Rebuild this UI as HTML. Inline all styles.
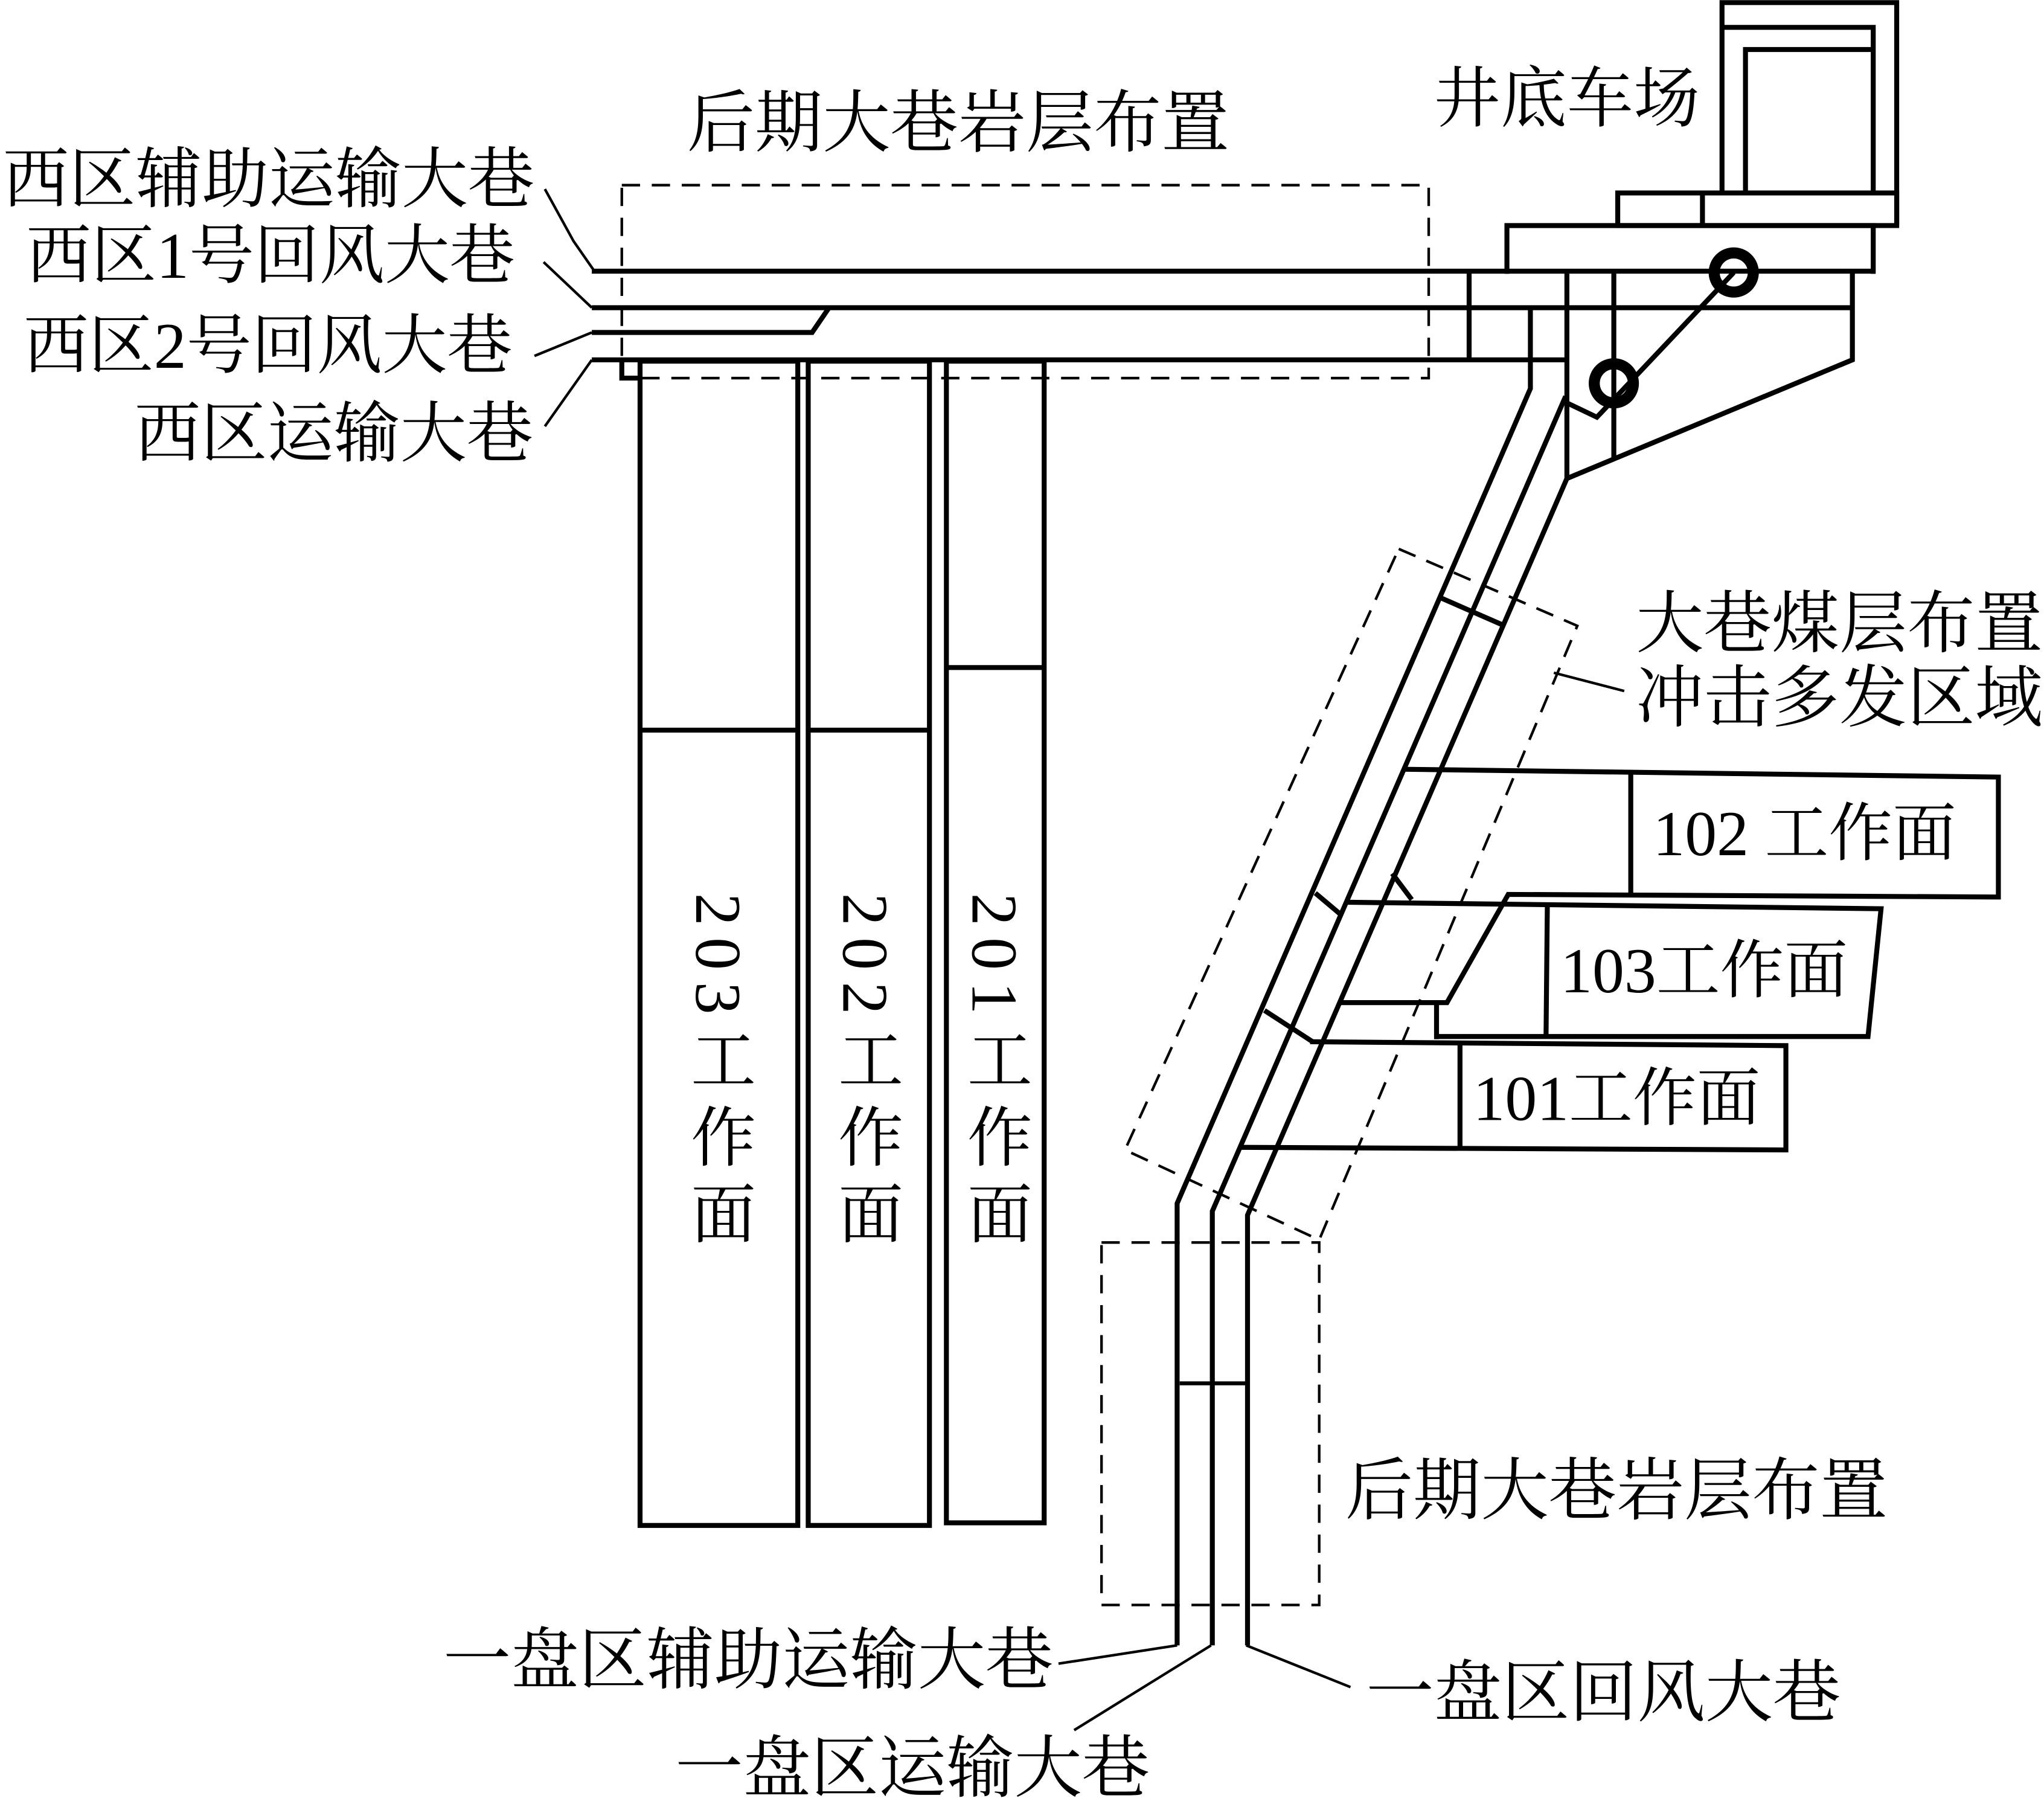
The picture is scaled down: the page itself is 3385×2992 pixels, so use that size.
<!DOCTYPE html>
<html><head><meta charset="utf-8"><style>
html,body{margin:0;padding:0;background:#fff;}
#wrap{position:relative;width:3385px;height:2992px;overflow:hidden;background:#fff;}
#c{position:absolute;left:0;top:0;width:1568px;height:1386px;transform:scale(2.1588);transform-origin:0 0;}
.t{position:absolute;font-family:"Liberation Serif","Noto Serif CJK SC",serif;font-size:48px;line-height:1;white-space:nowrap;color:#000;}
.v{writing-mode:vertical-rl;text-orientation:mixed;letter-spacing:9px;}
</style></head><body><div id="wrap"><div id="c">
<svg width="1568" height="1386" viewBox="0 0 1568 1386" style="position:absolute;left:0;top:0">
<g fill="none" stroke="#000" stroke-width="3.8" stroke-linejoin="miter">
<polyline points="1321,148 1321,2 1455,2 1455,173"/>
<polyline points="1321,21 1437,21 1437,148"/>
<polyline points="1339,148 1339,38 1437,38"/>
<rect x="1241" y="148" width="214" height="25"/>
<line x1="1306" y1="148" x2="1306" y2="173"/>
<polyline points="1156,210 1156,173 1437,173 1437,210"/>
<line x1="454" y1="208" x2="1437" y2="208"/>
<line x1="454" y1="236" x2="1421" y2="236"/>
<polyline points="454,255 623,255 636,236"/>
<line x1="454" y1="276" x2="1202" y2="276"/>
<polyline points="1421,208 1421,276 1202,367"/>
<line x1="1127" y1="208" x2="1127" y2="276"/>
<polyline points="1174,236 1174,298 903,923 903,1262"/>
<line x1="1202" y1="208" x2="1202" y2="367"/>
<polyline points="1201,304 930,929 930,1262"/>
<polyline points="1202,367 957,932 957,1262"/>
<line x1="1238" y1="208" x2="1238" y2="352"/>
<polyline points="1202,309 1225,320 1330,209"/>
<line x1="1104" y1="458" x2="1152" y2="479"/>
<line x1="905" y1="1061" x2="957" y2="1061" stroke-width="3"/>
<line x1="1009" y1="685" x2="1028" y2="701"/>
<line x1="970" y1="775" x2="1007" y2="799"/>
<line x1="1068" y1="670" x2="1083" y2="690"/>
<polyline points="1076,590 1533,596 1533,688 1157,686 1110,769 1028,769"/>
<line x1="1251" y1="592" x2="1251" y2="687"/>
<line x1="1102" y1="769" x2="1102" y2="797"/>
<polyline points="1032,692 1443,697 1433,795 1102,795"/>
<line x1="1187" y1="694" x2="1186" y2="795"/>
<polyline points="1005,799 1370,802 1370,882 952,880"/>
<line x1="1120" y1="800" x2="1120" y2="881"/>
<rect x="491" y="277" width="121" height="893"/>
<line x1="491" y1="560" x2="612" y2="560"/>
<rect x="620" y="277" width="93" height="893"/>
<line x1="620" y1="560" x2="713" y2="560"/>
<rect x="726" y="277" width="75" height="891"/>
<line x1="726" y1="512" x2="801" y2="512"/>
<polyline points="477,276 477,290 490,290"/>
</g>
<g fill="none" stroke="#000" stroke-width="8.5">
<circle cx="1330" cy="209" r="15"/>
<circle cx="1238" cy="294" r="15"/>
</g>
<g fill="none" stroke="#000" stroke-width="2" stroke-dasharray="14,9">
<rect x="477" y="142" width="619" height="148"/>
<polygon points="1073,421 1210,480 1012,951 863,882"/>
<rect x="845" y="953" width="167" height="278"/>
</g>
<g fill="none" stroke="#000" stroke-width="2">
<polyline points="418,145 440,185 456,208"/>
<line x1="417" y1="201" x2="454" y2="236"/>
<line x1="410" y1="273" x2="454" y2="255"/>
<line x1="418" y1="327" x2="454" y2="276"/>
<line x1="1192" y1="516" x2="1246" y2="530"/>
<line x1="903" y1="1262" x2="812" y2="1276"/>
<line x1="929" y1="1262" x2="824" y2="1327"/>
<line x1="956" y1="1262" x2="1036" y2="1294"/>
</g>
</svg>
<div class="t" style="left:527px;top:70px;font-size:52px">后期大巷岩层布置</div>
<div class="t" style="left:1100px;top:52px;font-size:51px">井底车场</div>
<div class="t" style="left:2px;top:114px;font-size:51px">西区辅助运输大巷</div>
<div class="t" style="left:20px;top:171px;font-size:50px">西区1号回风大巷</div>
<div class="t" style="left:18px;top:240px;font-size:50px">西区2号回风大巷</div>
<div class="t" style="left:103px;top:309px;font-size:51px">西区运输大巷</div>
<div class="t" style="left:1255px;top:454px;font-size:52px">大巷煤层布置</div>
<div class="t" style="left:1255px;top:511px;font-size:52px">冲击多发区域</div>
<div class="t" style="left:1268px;top:615px;font-size:49px">102 工作面</div>
<div class="t" style="left:1197px;top:720px;font-size:49px">103工作面</div>
<div class="t" style="left:1130px;top:818px;font-size:49px">101工作面</div>
<div class="t" style="left:1032px;top:1119px;font-size:52px">后期大巷岩层布置</div>
<div class="t" style="left:340px;top:1249px;font-size:52px">一盘区辅助运输大巷</div>
<div class="t" style="left:518px;top:1332px;font-size:52px">一盘区运输大巷</div>
<div class="t" style="left:1048px;top:1274px;font-size:52px">一盘区回风大巷</div>
<div class="t v" style="left:526px;top:685px;font-size:50px">203工作面</div>
<div class="t v" style="left:639px;top:685px;font-size:50px">202工作面</div>
<div class="t v" style="left:738px;top:685px;font-size:50px">201工作面</div>
</div></div></body></html>
